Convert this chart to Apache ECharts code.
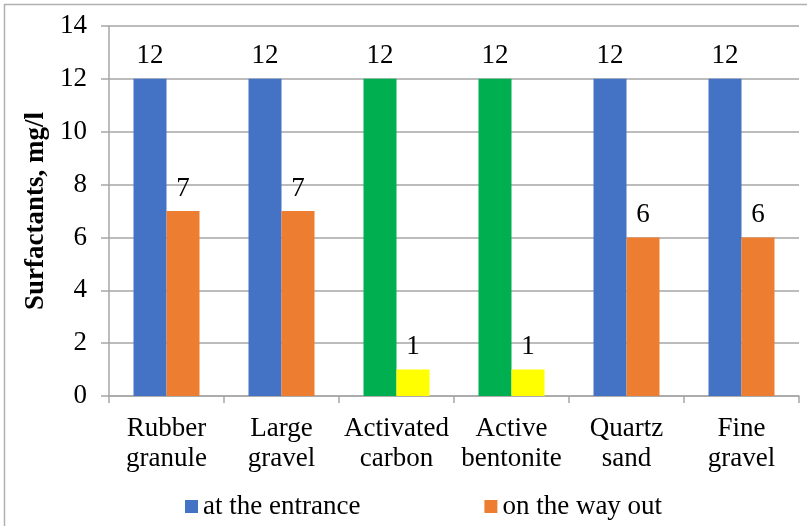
<!DOCTYPE html>
<html>
<head>
<meta charset="utf-8">
<script src="https://cdn.jsdelivr.net/npm/echarts@6/dist/echarts.min.js"></script>
<style>
  html, body { margin: 0; padding: 0; background: #fff; }
  #chart { width: 807px; height: 526px; }
</style>
</head>
<body>
<div id="chart"></div>
<script>
// Filter media and surfactant concentrations before/after filtration
const categories = ['Rubber\ngranule', 'Large\ngravel', 'Activated\ncarbon', 'Active\nbentonite', 'Quartz\nsand', 'Fine\ngravel'];
const entranceValues = [12, 12, 12, 12, 12, 12];
const exitValues = [7, 7, 1, 1, 6, 6];
const seriesNames = ['at the entrance', 'on the way out'];
const sorbentCategories = ['Activated\ncarbon', 'Active\nbentonite'];
const yTicks = { min: 0, max: 14, interval: 2 };

const FONT = '"Liberation Serif", "Times New Roman", serif';
const FS = 27;
const BLUE = '#4472C4', ORANGE = '#ED7D31', GREEN = '#00B050', YELLOW = '#FFFF00';
const GRID_GRAY = '#A6A6A6';

function styled(values, base, alt) {
  return values.map((v, i) => ({
    value: v,
    itemStyle: { color: sorbentCategories.includes(categories[i]) ? alt : base }
  }));
}

const labelCfg = {
  show: true,
  position: 'top',
  distance: 9,
  fontFamily: FONT,
  fontSize: FS,
  color: '#000'
};

const chart = echarts.init(document.getElementById('chart'), null, { renderer: 'canvas' });
chart.setOption({
  animation: false,
  backgroundColor: '#fff',
  graphic: [{
    type: 'rect',
    shape: { x: 4.5, y: 4.5, width: 830, height: 560 },
    style: { fill: 'none', stroke: '#B0B0B0', lineWidth: 1.5 },
    silent: true
  }],
  grid: { left: 109, right: 8, top: 26, bottom: 130 },
  legend: {
    left: 180,
    top: 488,
    itemWidth: 13,
    itemHeight: 13,
    itemGap: 124,
    icon: 'rect',
    textStyle: { fontFamily: FONT, fontSize: FS, color: '#000' },
    data: [
      { name: seriesNames[0], itemStyle: { color: BLUE } },
      { name: seriesNames[1], itemStyle: { color: ORANGE } }
    ]
  },
  xAxis: {
    type: 'category',
    data: categories,
    axisLine: { lineStyle: { color: GRID_GRAY, width: 1.5 } },
    axisTick: { show: true, length: 7, lineStyle: { color: GRID_GRAY, width: 1.5 } },
    axisLabel: {
      interval: 0,
      margin: 18,
      fontFamily: FONT,
      fontSize: FS,
      lineHeight: 30,
      color: '#000'
    }
  },
  yAxis: {
    type: 'value',
    min: yTicks.min,
    max: yTicks.max,
    interval: yTicks.interval,
    name: 'Surfactants, mg/l',
    nameLocation: 'middle',
    nameGap: 51,
    nameRotate: 90,
    nameTextStyle: { fontFamily: FONT, fontSize: FS, fontWeight: 'bold', color: '#000' },
    axisLine: { show: true, lineStyle: { color: GRID_GRAY, width: 1.5 } },
    axisTick: { show: true, length: 8, lineStyle: { color: GRID_GRAY, width: 1.5 } },
    axisLabel: { margin: 22, fontFamily: FONT, fontSize: FS, color: '#000' },
    splitLine: { show: true, lineStyle: { color: GRID_GRAY, width: 1.5 } }
  },
  series: [
    {
      name: seriesNames[0],
      type: 'bar',
      barWidth: 33,
      barGap: '0%',
      itemStyle: { color: BLUE },
      label: labelCfg,
      data: styled(entranceValues, BLUE, GREEN)
    },
    {
      name: seriesNames[1],
      type: 'bar',
      barWidth: 33,
      barGap: '0%',
      itemStyle: { color: ORANGE },
      label: labelCfg,
      data: styled(exitValues, ORANGE, YELLOW)
    }
  ]
});
</script>
</body>
</html>
